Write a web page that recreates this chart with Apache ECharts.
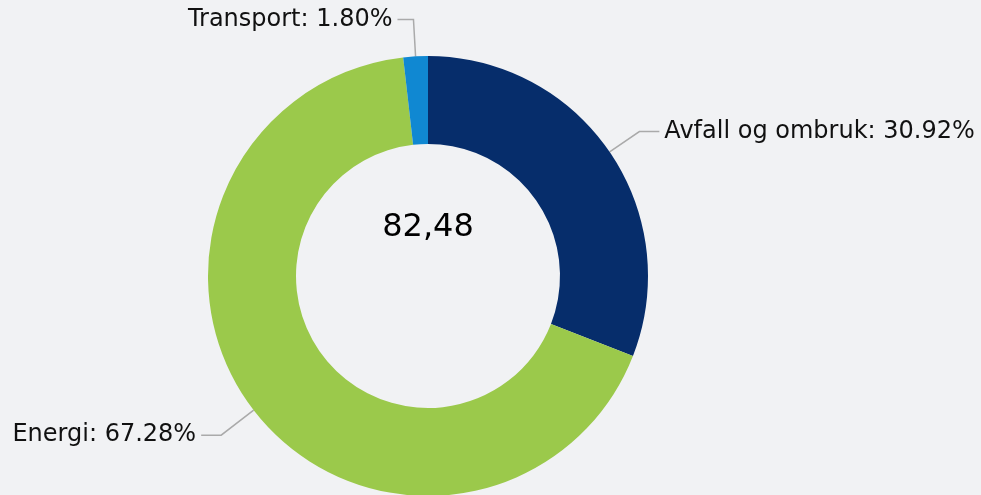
<!DOCTYPE html>
<html>
<head>
<meta charset="utf-8">
<script src="https://cdn.jsdelivr.net/npm/echarts@6/dist/echarts.min.js"></script>
<style>
  html, body { margin: 0; padding: 0; background: #f1f2f4; }
  #main { width: 981px; height: 495px; }
</style>
</head>
<body>
<div id="main"></div>
<script>
// andel per sektor (prosent), total i midten
let categories = ['Avfall og ombruk', 'Energi', 'Transport'];
let shares = [30.92, 67.28, 1.80];
let colors = ['#062d6b', '#9bc94b', '#1088d2'];
let lineLengths = [[36, 20], [41, 20], [37, 16]];
let total = '82,48';

let myChart = echarts.init(document.getElementById('main'));

let pieData = categories.map((name, i) => ({
    name: name,
    value: shares[i],
    itemStyle: { color: colors[i] },
    labelLine: { length: lineLengths[i][0], length2: lineLengths[i][1] }
}));

let option = {
    backgroundColor: '#f1f2f4',
    animation: false,
    graphic: [{
        type: 'text',
        x: 428,
        y: 228,
        style: {
            text: total,
            fontFamily: 'DejaVu Sans',
            fontSize: 32,
            fill: '#000',
            textAlign: 'center',
            textVerticalAlign: 'middle'
        }
    }],
    series: [{
        type: 'pie',
        center: [428, 276],
        radius: [132, 220],
        startAngle: 90,
        clockwise: true,
        avoidLabelOverlap: false,
        label: {
            show: true,
            position: 'outside',
            formatter: (p) => p.name + ': ' + p.value.toFixed(2) + '%',
            fontFamily: 'DejaVu Sans',
            fontSize: 24,
            color: '#111'
        },
        labelLine: {
            show: true,
            lineStyle: { color: '#aaaaaa', width: 1.5 }
        },
        emphasis: { disabled: true },
        data: pieData
    }]
};
myChart.setOption(option);
</script>
</body>
</html>
